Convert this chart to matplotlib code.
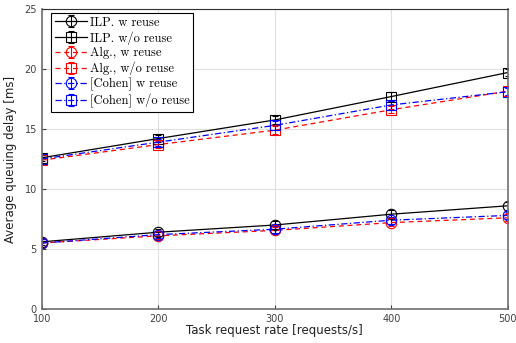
import matplotlib
matplotlib.use("Agg")
import matplotlib.pyplot as plt
import numpy as np

rates = [100, 200, 300, 400, 500]

ilp_w = [5.6, 6.4, 7.0, 7.9, 8.6]
ilp_wo = [12.6, 14.2, 15.75, 17.7, 19.7]
alg_w = [5.5, 6.1, 6.55, 7.2, 7.6]
alg_wo = [12.4, 13.7, 14.9, 16.6, 18.15]
cohen_w = [5.5, 6.2, 6.65, 7.4, 7.8]
cohen_wo = [12.5, 13.9, 15.3, 17.0, 18.1]

err_ilp_w = [0.3, 0.3, 0.35, 0.35, 0.35]
err_ilp_wo = [0.3, 0.3, 0.35, 0.35, 0.3]
err_alg_w = [0.3, 0.3, 0.3, 0.3, 0.3]
err_alg_wo = [0.3, 0.3, 0.35, 0.3, 0.3]
err_cohen_w = [0.3, 0.3, 0.3, 0.3, 0.3]
err_cohen_wo = [0.3, 0.3, 0.35, 0.3, 0.3]

labels = ["ILP. w reuse", "ILP. w/o reuse", "Alg., w reuse", "Alg., w/o reuse",
          "[Cohen] w reuse", "[Cohen] w/o reuse"]

fig = plt.figure(figsize=(5.16, 3.43), dpi=100)
ax = fig.add_axes([0.081, 0.099, 0.903, 0.875])

series = [
    (ilp_w, err_ilp_w, "black", "-", "o"),
    (ilp_wo, err_ilp_wo, "black", "-", "s"),
    (alg_w, err_alg_w, "red", (0, (4, 3)), "o"),
    (alg_wo, err_alg_wo, "red", (0, (4, 3)), "s"),
    (cohen_w, err_cohen_w, "blue", (0, (5, 2, 1, 2)), "o"),
    (cohen_wo, err_cohen_wo, "blue", (0, (5, 2, 1, 2)), "s"),
]
for (vals, err, c, ls, mk), lab in zip(series, labels):
    ax.errorbar(rates, vals, yerr=err, color=c, linestyle=ls, marker=mk,
                markersize=7.5 if mk == "o" else 7, markerfacecolor="none",
                markeredgewidth=0.8, linewidth=0.9, capsize=2.2, elinewidth=0.8,
                label=lab)

ax.set_xlim(100, 500)
ax.set_ylim(0, 25)
ax.set_xticks(rates)
ax.set_yticks([0, 5, 10, 15, 20, 25])
ax.grid(True, color="#e0e0e0", linewidth=0.8)
ax.set_axisbelow(True)
ax.tick_params(direction="in", labelsize=7, colors="#404040", length=3)
for s in ["left", "right", "bottom"]:
    ax.spines[s].set_color("#707070")
    ax.spines[s].set_linewidth(1.2)
ax.spines["top"].set_color("#303030")
ax.set_xlabel("Task request rate [requests/s]", fontsize=8.5, color="#202020", labelpad=0)
ax.set_ylabel("Average queuing delay [ms]", fontsize=8.5, color="#202020", labelpad=5)

leg = ax.legend(loc="upper left", prop={"family": "cmr10", "size": 9},
                fancybox=False, edgecolor="black", framealpha=1,
                borderpad=0.3, labelspacing=0.2, handlelength=2.6,
                handletextpad=0.2, borderaxespad=0.3, bbox_to_anchor=(0.012, 1.0))
leg.get_frame().set_linewidth(0.8)

fig.savefig("out.png", dpi=100)
